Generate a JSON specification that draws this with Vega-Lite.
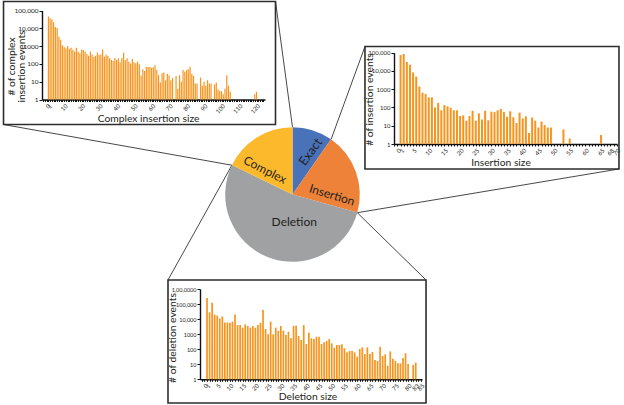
{
  "$schema": "https://vega.github.io/schema/vega-lite/v6.json",
  "width": 624,
  "height": 405,
  "padding": 0,
  "autosize": {"type": "none"},
  "background": "white",
  "config": {
    "view": {"stroke": null},
    "font": "Lato",
    "axis": {"labelFont": "Lato", "titleFont": "Lato", "titleFontWeight": "normal", "labelColor": "#231f20", "titleColor": "#231f20", "domainColor": "#111111", "tickColor": "#111111", "domainWidth": 1.4, "grid": false, "labelOverlap": false, "labelFlush": false, "labelBound": false}
  },
  "datasets": {
    "pie": [
      {"category": "Exact", "share": 9.7, "k": 1},
      {"category": "Insertion", "share": 19.6, "k": 2},
      {"category": "Deletion", "share": 52.9, "k": 3},
      {"category": "Complex", "share": 17.8, "k": 4}
    ],
    "complex": [
      {"size": 1, "events": 46000}, {"size": 2, "events": 37000}, {"size": 3, "events": 32000}, {"size": 4, "events": 22000}, {"size": 5, "events": 12000},
      {"size": 6, "events": 10500}, {"size": 7, "events": 3500}, {"size": 8, "events": 2300}, {"size": 9, "events": 1100}, {"size": 10, "events": 900},
      {"size": 11, "events": 750}, {"size": 12, "events": 1000}, {"size": 13, "events": 700}, {"size": 14, "events": 800}, {"size": 15, "events": 630},
      {"size": 16, "events": 490}, {"size": 17, "events": 800}, {"size": 18, "events": 490}, {"size": 19, "events": 400}, {"size": 20, "events": 650},
      {"size": 21, "events": 600}, {"size": 22, "events": 490}, {"size": 23, "events": 360}, {"size": 24, "events": 290}, {"size": 25, "events": 490},
      {"size": 26, "events": 340}, {"size": 27, "events": 245}, {"size": 28, "events": 290}, {"size": 29, "events": 430}, {"size": 30, "events": 316},
      {"size": 31, "events": 340}, {"size": 32, "events": 650}, {"size": 33, "events": 250}, {"size": 34, "events": 340}, {"size": 35, "events": 280},
      {"size": 36, "events": 205}, {"size": 37, "events": 165}, {"size": 38, "events": 147}, {"size": 39, "events": 225}, {"size": 40, "events": 165},
      {"size": 41, "events": 205}, {"size": 42, "events": 123}, {"size": 43, "events": 205}, {"size": 44, "events": 430}, {"size": 45, "events": 165},
      {"size": 46, "events": 205}, {"size": 47, "events": 135}, {"size": 48, "events": 105}, {"size": 49, "events": 190}, {"size": 50, "events": 123},
      {"size": 51, "events": 110}, {"size": 52, "events": 135}, {"size": 53, "events": 96}, {"size": 54, "events": 22}, {"size": 55, "events": 50},
      {"size": 56, "events": 40}, {"size": 57, "events": 66}, {"size": 58, "events": 69}, {"size": 59, "events": 66}, {"size": 60, "events": 60},
      {"size": 61, "events": 65}, {"size": 62, "events": 85}, {"size": 63, "events": 45}, {"size": 64, "events": 23}, {"size": 65, "events": 9},
      {"size": 66, "events": 30}, {"size": 67, "events": 33}, {"size": 68, "events": 12}, {"size": 69, "events": 28}, {"size": 70, "events": 22},
      {"size": 71, "events": 12}, {"size": 72, "events": 16}, {"size": 74, "events": 21}, {"size": 75, "events": 4}, {"size": 76, "events": 23},
      {"size": 77, "events": 10}, {"size": 78, "events": 45}, {"size": 79, "events": 36}, {"size": 80, "events": 45}, {"size": 81, "events": 50},
      {"size": 82, "events": 69}, {"size": 83, "events": 28}, {"size": 84, "events": 21}, {"size": 85, "events": 8}, {"size": 86, "events": 8},
      {"size": 88, "events": 17}, {"size": 89, "events": 6}, {"size": 90, "events": 10}, {"size": 91, "events": 6}, {"size": 92, "events": 12},
      {"size": 93, "events": 8}, {"size": 94, "events": 8}, {"size": 96, "events": 7}, {"size": 97, "events": 9}, {"size": 98, "events": 3.7},
      {"size": 99, "events": 3}, {"size": 100, "events": 2.9}, {"size": 101, "events": 2}, {"size": 102, "events": 4}, {"size": 103, "events": 23},
      {"size": 104, "events": 6}, {"size": 105, "events": 2.7}, {"size": 119, "events": 2}, {"size": 120, "events": 2.7}
    ],
    "insertion": [
      {"size": 1, "events": 74000}, {"size": 2, "events": 85000}, {"size": 3, "events": 31000}, {"size": 4, "events": 22000}, {"size": 5, "events": 8300},
      {"size": 6, "events": 4900}, {"size": 7, "events": 1400}, {"size": 8, "events": 650}, {"size": 9, "events": 550}, {"size": 10, "events": 360},
      {"size": 11, "events": 360}, {"size": 12, "events": 100}, {"size": 13, "events": 180}, {"size": 14, "events": 70}, {"size": 15, "events": 135},
      {"size": 16, "events": 115}, {"size": 17, "events": 98}, {"size": 18, "events": 70}, {"size": 19, "events": 70}, {"size": 20, "events": 34},
      {"size": 21, "events": 37}, {"size": 22, "events": 19}, {"size": 23, "events": 34}, {"size": 24, "events": 66}, {"size": 25, "events": 19},
      {"size": 26, "events": 48}, {"size": 27, "events": 22}, {"size": 28, "events": 66}, {"size": 29, "events": 20}, {"size": 30, "events": 59},
      {"size": 31, "events": 56}, {"size": 32, "events": 70}, {"size": 33, "events": 83}, {"size": 34, "events": 56}, {"size": 35, "events": 31},
      {"size": 36, "events": 62}, {"size": 37, "events": 29}, {"size": 38, "events": 14}, {"size": 39, "events": 52}, {"size": 40, "events": 25},
      {"size": 41, "events": 33}, {"size": 42, "events": 4}, {"size": 43, "events": 28}, {"size": 44, "events": 19}, {"size": 45, "events": 8},
      {"size": 46, "events": 17}, {"size": 47, "events": 11}, {"size": 48, "events": 8}, {"size": 49, "events": 8}, {"size": 53, "events": 6.3},
      {"size": 55, "events": 2}, {"size": 65, "events": 3.1}
    ],
    "deletion": [
      {"size": 1, "events": 250000}, {"size": 2, "events": 28000}, {"size": 3, "events": 123000}, {"size": 4, "events": 20000}, {"size": 5, "events": 17000},
      {"size": 6, "events": 11000}, {"size": 7, "events": 15000}, {"size": 8, "events": 6000}, {"size": 9, "events": 6000}, {"size": 10, "events": 5700},
      {"size": 11, "events": 6700}, {"size": 12, "events": 20000}, {"size": 13, "events": 4000}, {"size": 14, "events": 4000}, {"size": 15, "events": 2700},
      {"size": 16, "events": 4500}, {"size": 17, "events": 3500}, {"size": 18, "events": 2700}, {"size": 19, "events": 3500}, {"size": 20, "events": 2700},
      {"size": 21, "events": 4000}, {"size": 22, "events": 5700}, {"size": 23, "events": 40000}, {"size": 24, "events": 2200}, {"size": 25, "events": 980},
      {"size": 26, "events": 6700}, {"size": 27, "events": 980}, {"size": 28, "events": 2700}, {"size": 29, "events": 1700}, {"size": 30, "events": 3500},
      {"size": 31, "events": 1700}, {"size": 32, "events": 870}, {"size": 33, "events": 1450}, {"size": 34, "events": 530}, {"size": 35, "events": 3600},
      {"size": 36, "events": 3600}, {"size": 37, "events": 750}, {"size": 38, "events": 410}, {"size": 39, "events": 4000}, {"size": 40, "events": 220},
      {"size": 41, "events": 1250}, {"size": 42, "events": 530}, {"size": 43, "events": 470}, {"size": 44, "events": 680}, {"size": 45, "events": 680},
      {"size": 46, "events": 220}, {"size": 47, "events": 290}, {"size": 48, "events": 350}, {"size": 49, "events": 470}, {"size": 50, "events": 245},
      {"size": 51, "events": 126}, {"size": 52, "events": 190}, {"size": 53, "events": 190}, {"size": 54, "events": 210}, {"size": 55, "events": 114},
      {"size": 56, "events": 62}, {"size": 57, "events": 76}, {"size": 58, "events": 80}, {"size": 59, "events": 62}, {"size": 60, "events": 32},
      {"size": 61, "events": 103}, {"size": 62, "events": 133}, {"size": 63, "events": 48}, {"size": 64, "events": 133}, {"size": 65, "events": 48},
      {"size": 66, "events": 65}, {"size": 67, "events": 19}, {"size": 68, "events": 16.5}, {"size": 69, "events": 147}, {"size": 70, "events": 35},
      {"size": 71, "events": 46}, {"size": 72, "events": 8}, {"size": 73, "events": 72}, {"size": 74, "events": 23}, {"size": 75, "events": 17},
      {"size": 76, "events": 11.5}, {"size": 77, "events": 11.5}, {"size": 78, "events": 26}, {"size": 79, "events": 53}, {"size": 80, "events": 10.4},
      {"size": 82, "events": 9}, {"size": 83, "events": 12.8}
    ]
  },
  "layer": [
    {
      "layer": [
        {"data": {"values": [{}]}, "mark": {"type": "rule", "stroke": "#333333", "strokeWidth": 0.9}, "encoding": {
          "x": {"datum": -0.2526, "type": "quantitative", "scale": {"domain": [-1, 1], "range": [225.2, 359.8], "nice": false, "zero": false}, "axis": null},
          "y": {"datum": 2.868, "type": "quantitative", "scale": {"domain": [-1, 1], "range": [261.8, 127.2], "nice": false, "zero": false}, "axis": null},
          "x2": {"datum": 0}, "y2": {"datum": 1}}},
        {"data": {"values": [{}]}, "mark": {"type": "rule", "stroke": "#333333", "strokeWidth": 0.9}, "encoding": {
          "x": {"datum": -4.294, "type": "quantitative"}, "y": {"datum": 1.04, "type": "quantitative"},
          "x2": {"datum": -0.9003}, "y2": {"datum": 0.4352}}},
        {"data": {"values": [{}]}, "mark": {"type": "rule", "stroke": "#333333", "strokeWidth": 0.9}, "encoding": {
          "x": {"datum": 1.077, "type": "quantitative"}, "y": {"datum": 2.199, "type": "quantitative"},
          "x2": {"datum": 0.5736}, "y2": {"datum": 0.8192}}},
        {"data": {"values": [{}]}, "mark": {"type": "rule", "stroke": "#333333", "strokeWidth": 0.9}, "encoding": {
          "x": {"datum": 4.851, "type": "quantitative"}, "y": {"datum": 0.379, "type": "quantitative"},
          "x2": {"datum": 0.9627}, "y2": {"datum": -0.2706}}},
        {"data": {"values": [{}]}, "mark": {"type": "rule", "stroke": "#333333", "strokeWidth": 0.9}, "encoding": {
          "x": {"datum": -1.85, "type": "quantitative"}, "y": {"datum": -1.27, "type": "quantitative"},
          "x2": {"datum": -0.9003}, "y2": {"datum": 0.4352}}},
        {"data": {"values": [{}]}, "mark": {"type": "rule", "stroke": "#333333", "strokeWidth": 0.9}, "encoding": {
          "x": {"datum": 1.984, "type": "quantitative"}, "y": {"datum": -1.27, "type": "quantitative"},
          "x2": {"datum": 0.9627}, "y2": {"datum": -0.2706}}},
        {"data": {"values": [{}]}, "mark": {"type": "rect", "fill": "white", "fillOpacity": 0, "stroke": "#2e2e2e", "strokeWidth": 1.6}, "encoding": {
          "x": {"datum": -4.294, "type": "quantitative"}, "y": {"datum": 2.868, "type": "quantitative"},
          "x2": {"datum": -0.2526}, "y2": {"datum": 1.04}}},
        {"data": {"values": [{}]}, "mark": {"type": "rect", "fill": "white", "fillOpacity": 0, "stroke": "#2e2e2e", "strokeWidth": 1.6}, "encoding": {
          "x": {"datum": 1.077, "type": "quantitative"}, "y": {"datum": 2.199, "type": "quantitative"},
          "x2": {"datum": 4.851}, "y2": {"datum": 0.379}}},
        {"data": {"values": [{}]}, "mark": {"type": "rect", "fill": "white", "fillOpacity": 0, "stroke": "#2e2e2e", "strokeWidth": 1.6}, "encoding": {
          "x": {"datum": -1.85, "type": "quantitative"}, "y": {"datum": -1.27, "type": "quantitative"},
          "x2": {"datum": 1.984}, "y2": {"datum": -3.098}}},
        {"data": {"name": "pie"}, "mark": {"type": "arc", "radius": 67.3}, "encoding": {
          "theta": {"field": "share", "type": "quantitative", "stack": true},
          "order": {"field": "k", "type": "quantitative"},
          "color": {"field": "category", "type": "nominal", "scale": {"domain": ["Exact", "Insertion", "Deletion", "Complex"], "range": ["#4a72b8", "#ef8239", "#9fa1a3", "#fcb92c"]}, "legend": null},
          "x": {"datum": 0, "type": "quantitative"}, "y": {"datum": 0, "type": "quantitative"}}},
        {"data": {"name": "pie"}, "transform": [{"filter": "datum.category == 'Exact'"}], "mark": {"type": "text", "angle": -54, "fontSize": 12.5, "font": "Lato", "color": "#231f20", "align": "center", "baseline": "middle"}, "encoding": {
          "text": {"field": "category"}, "x": {"datum": 0.27, "type": "quantitative"}, "y": {"datum": 0.632, "type": "quantitative"}}},
        {"data": {"name": "pie"}, "transform": [{"filter": "datum.category == 'Insertion'"}], "mark": {"type": "text", "angle": 17, "fontSize": 12, "font": "Lato", "color": "#231f20", "align": "center", "baseline": "middle"}, "encoding": {
          "text": {"field": "category"}, "x": {"datum": 0.587, "type": "quantitative"}, "y": {"datum": -0.007, "type": "quantitative"}}},
        {"data": {"name": "pie"}, "transform": [{"filter": "datum.category == 'Complex'"}], "mark": {"type": "text", "angle": 27, "fontSize": 12, "font": "Lato", "color": "#231f20", "align": "center", "baseline": "middle"}, "encoding": {
          "text": {"field": "category"}, "x": {"datum": -0.409, "type": "quantitative"}, "y": {"datum": 0.364, "type": "quantitative"}}},
        {"data": {"name": "pie"}, "transform": [{"filter": "datum.category == 'Deletion'"}], "mark": {"type": "text", "angle": 0, "fontSize": 12, "font": "Lato", "color": "#231f20", "align": "center", "baseline": "middle"}, "encoding": {
          "text": {"field": "category"}, "x": {"datum": 0.027, "type": "quantitative"}, "y": {"datum": -0.404, "type": "quantitative"}}}
      ]
    },
    {
      "data": {"name": "complex"},
      "mark": {"type": "bar", "size": 1.2, "color": "#f7941d"},
      "encoding": {
        "x": {"field": "size", "type": "quantitative", "scale": {"domain": [0.2, 122], "range": [42, 265], "nice": false, "zero": false},
          "axis": {"orient": "bottom", "offset": -305.5, "tickCount": 122, "labelExpr": "datum.value == 1 || datum.value % 10 == 0 ? datum.label : ''", "labelAngle": -45, "labelFontSize": 6, "labelPadding": 1, "tickSize": 2, "title": "Complex insertion size", "titleFontSize": 10.3, "titleX": 148, "titleY": 18.5, "titleBaseline": "middle", "titleAlign": "center"}},
        "y": {"field": "events", "type": "quantitative", "scale": {"type": "log", "domain": [1, 100000], "range": [99.5, 10.5], "nice": false},
          "axis": {"orient": "left", "offset": -42, "values": [1, 10, 100, 1000, 10000, 100000], "labelExpr": "datum.value >= 10000 ? format(datum.value, ',') : format(datum.value, 'd')", "labelFontSize": 6.5, "labelPadding": 1, "tickSize": 3, "title": ["# of complex", "insertion events"], "titleFontSize": 10.3, "titleLineHeight": 10, "titleAngle": 270, "titleBaseline": "bottom", "titleAlign": "center", "titleX": -26, "titleY": 66}},
        "y2": {"datum": 1}
      }
    },
    {
      "data": {"name": "insertion"},
      "mark": {"type": "bar", "size": 2, "color": "#f7941d"},
      "encoding": {
        "x": {"field": "size", "type": "quantitative", "scale": {"domain": [0.5, 68.5], "range": [394, 617], "nice": false, "zero": false},
          "axis": {"orient": "bottom", "offset": -261, "tickCount": 68, "labelExpr": "datum.value == 1 || datum.value % 5 == 0 || datum.value == 68 ? datum.label : ''", "labelAngle": -45, "labelFontSize": 6, "labelPadding": 1, "tickSize": 2, "title": "Insertion size", "titleFontSize": 10.3, "titleX": 500.5, "titleY": 18.7, "titleBaseline": "middle", "titleAlign": "center"}},
        "y": {"field": "events", "type": "quantitative", "scale": {"type": "log", "domain": [1, 100000], "range": [144, 52.7], "nice": false},
          "axis": {"orient": "left", "offset": -394, "values": [1, 10, 100, 1000, 10000, 100000], "labelExpr": "datum.value >= 10000 ? format(datum.value, ',') : format(datum.value, 'd')", "labelFontSize": 6, "labelPadding": 1, "tickSize": 3, "title": "# of insertion events", "titleFontSize": 10.3, "titleAngle": 270, "titleBaseline": "bottom", "titleAlign": "center", "titleX": -20, "titleY": 99}},
        "y2": {"datum": 1}
      }
    },
    {
      "data": {"name": "deletion"},
      "mark": {"type": "bar", "size": 1.7, "color": "#f7941d"},
      "encoding": {
        "x": {"field": "size", "type": "quantitative", "scale": {"domain": [0.2, 83.5], "range": [200, 422], "nice": false, "zero": false},
          "axis": {"orient": "bottom", "offset": -25.7, "tickCount": 83, "labelExpr": "datum.value == 1 || datum.value % 5 == 0 || datum.value == 83 ? datum.label : ''", "labelAngle": -45, "labelFontSize": 6, "labelPadding": 1, "tickSize": 2, "title": "Deletion size", "titleFontSize": 10.3, "titleX": 307.5, "titleY": 17.5, "titleBaseline": "middle", "titleAlign": "center"}},
        "y": {"field": "events", "type": "quantitative", "scale": {"type": "log", "domain": [1, 1000000], "range": [379.3, 289], "nice": false},
          "axis": {"orient": "left", "offset": -200, "values": [1, 10, 100, 1000, 10000, 100000, 1000000], "labelExpr": "datum.value == 1000000 ? '1,00,0000' : (datum.value >= 10000 ? format(datum.value, ',') : format(datum.value, 'd'))", "labelFontSize": 5.5, "labelPadding": 1, "tickSize": 3, "title": "# of deletion events", "titleFontSize": 10.3, "titleAngle": 270, "titleBaseline": "bottom", "titleAlign": "center", "titleX": -23, "titleY": 337.5}},
        "y2": {"datum": 1}
      }
    }
  ],
  "resolve": {
    "scale": {"x": "independent", "y": "independent"},
    "axis": {"x": "independent", "y": "independent"}
  }
}
